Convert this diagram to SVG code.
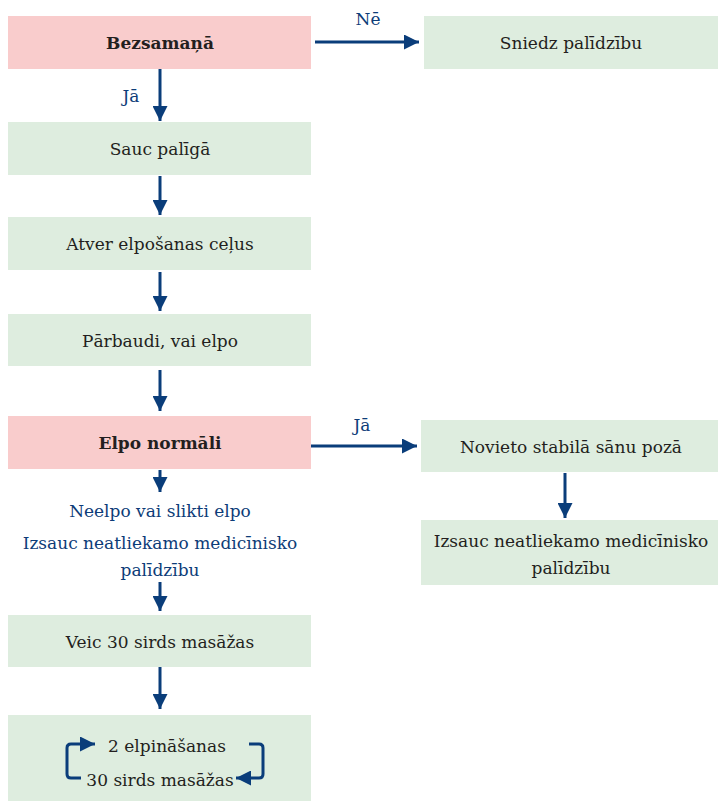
<svg xmlns="http://www.w3.org/2000/svg" width="718" height="801" viewBox="0 0 718 801">
<style>
.g{fill:#deeddf}
.p{fill:#f9cccc}
.t{font-family:"DejaVu Serif","Liberation Serif",serif;font-size:17px;fill:#231f20;text-anchor:middle}
.b{font-weight:bold}
.l{font-family:"DejaVu Serif","Liberation Serif",serif;font-size:17px;fill:#0d3c78;text-anchor:middle}
.c{stroke:#0a3d7a;stroke-width:3;fill:none}
</style>
<defs>
<marker id="ah" viewBox="0 0 10 10" refX="10" refY="5" markerWidth="5" markerHeight="5" markerUnits="strokeWidth" orient="auto">
<path d="M0,0 L10,5 L0,10 Z" fill="#0a3d7a"/>
</marker>
</defs>
<rect width="718" height="801" fill="#fff"/>
<g id="n1"><rect class="p" x="8" y="16" width="303" height="53"/><text class="t b" x="160" y="49">Bezsamaņā</text></g>
<g id="n2"><rect class="g" x="424" y="16" width="294" height="53"/><text class="t" x="571" y="49">Sniedz palīdzību</text></g>
<g id="n3"><rect class="g" x="8" y="122" width="303" height="53"/><text class="t" x="160" y="155">Sauc palīgā</text></g>
<g id="n4"><rect class="g" x="8" y="217" width="303" height="53"/><text class="t" x="160" y="250">Atver elpošanas ceļus</text></g>
<g id="n5"><rect class="g" x="8" y="314" width="303" height="52"/><text class="t" x="160" y="347">Pārbaudi, vai elpo</text></g>
<g id="n6"><rect class="p" x="8" y="416" width="303" height="53"/><text class="t b" x="160" y="449">Elpo normāli</text></g>
<g id="n7"><rect class="g" x="421" y="420" width="297" height="52"/><text class="t" x="571" y="453">Novieto stabilā sānu pozā</text></g>
<g id="n8"><rect class="g" x="421" y="520" width="297" height="65"/><text class="t" x="571" y="547">Izsauc neatliekamo medicīnisko</text><text class="t" x="571" y="574">palīdzību</text></g>
<g id="n9"><text class="l" x="160" y="517">Neelpo vai slikti elpo</text><text class="l" x="160" y="549">Izsauc neatliekamo medicīnisko</text><text class="l" x="160" y="576">palīdzību</text></g>
<g id="n10"><rect class="g" x="8" y="615" width="303" height="52"/><text class="t" x="160" y="648">Veic 30 sirds masāžas</text></g>
<g id="n11"><rect class="g" x="8" y="715" width="303" height="86"/><text class="t" x="167" y="752">2 elpināšanas</text><text class="t" x="160" y="786">30 sirds masāžas</text>
<path class="c" d="M81,778 H71 Q67,778 67,774 V748 Q67,744 71,744 H95" marker-end="url(#ah)"/>
<path class="c" d="M249,744 H259 Q263,744 263,748 V774 Q263,778 259,778 H236" marker-end="url(#ah)"/>
</g>
<g id="connectors">
<path class="c" d="M160,69 V121" marker-end="url(#ah)"/>
<text class="l" x="131" y="102">Jā</text>
<path class="c" d="M315,42 H419" marker-end="url(#ah)"/>
<text class="l" x="368" y="25">Nē</text>
<path class="c" d="M160,176 V215" marker-end="url(#ah)"/>
<path class="c" d="M160,272 V311" marker-end="url(#ah)"/>
<path class="c" d="M160,370 V411" marker-end="url(#ah)"/>
<path class="c" d="M311,446 H417" marker-end="url(#ah)"/>
<text class="l" x="362" y="431">Jā</text>
<path class="c" d="M565,473 V518" marker-end="url(#ah)"/>
<path class="c" d="M160,470 V492" marker-end="url(#ah)"/>
<path class="c" d="M160,582 V611" marker-end="url(#ah)"/>
<path class="c" d="M160,667 V709" marker-end="url(#ah)"/>
</g>
</svg>
